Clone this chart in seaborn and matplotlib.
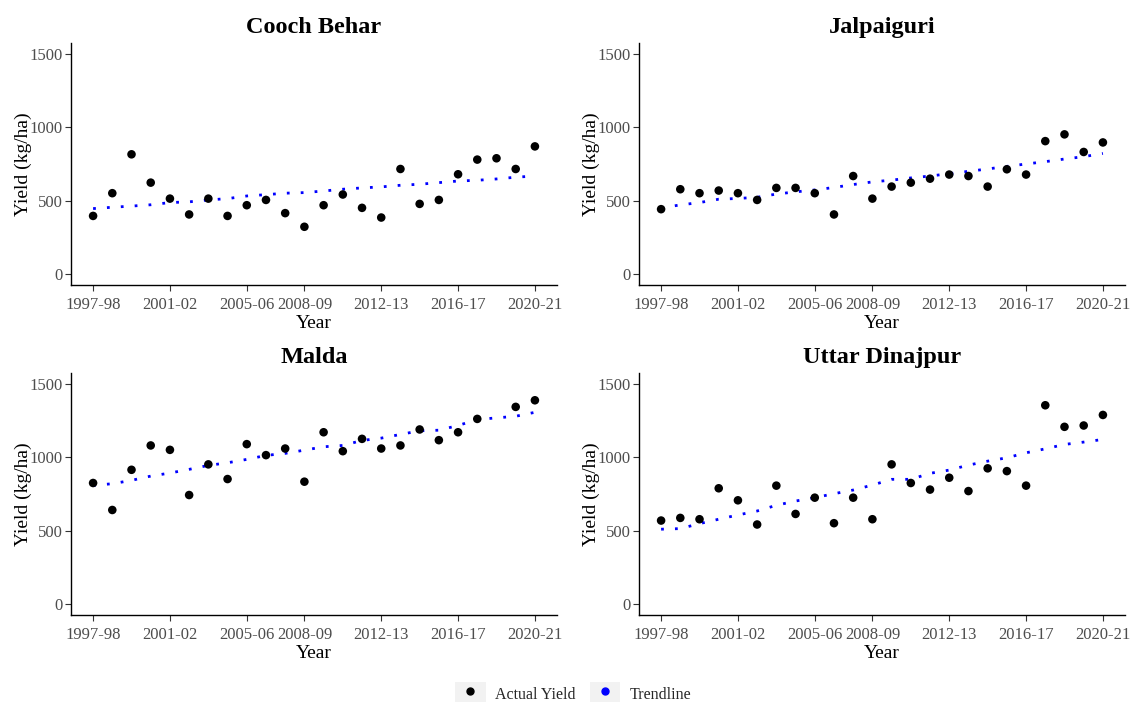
import numpy as np
import pandas as pd
import matplotlib
matplotlib.use("Agg")
import matplotlib.pyplot as plt
import seaborn as sns
from matplotlib.lines import Line2D
from matplotlib.patches import Rectangle
from matplotlib.legend_handler import HandlerTuple

years = ["1997-98", "1998-99", "1999-00", "2000-01", "2001-02", "2002-03",
         "2003-04", "2004-05", "2005-06", "2006-07", "2007-08", "2008-09",
         "2009-10", "2010-11", "2011-12", "2012-13", "2013-14", "2014-15",
         "2015-16", "2016-17", "2017-18", "2018-19", "2019-20", "2020-21"]
shown_years = ["1997-98", "2001-02", "2005-06", "2008-09", "2012-13", "2016-17", "2020-21"]
districts = ["Cooch Behar", "Jalpaiguri", "Malda", "Uttar Dinajpur"]

cooch_actual = [396, 551, 816, 623, 514, 406, 514, 396, 469, 505, 415, 322,
                469, 542, 451, 385, 716, 478, 505, 680, 780, 789, 716, 870]
cooch_trend = [446, 455, 463, 472, 487, 492, 505, 514, 532, 541, 551, 555,
               566, 578, 587, 594, 605, 612, 623, 634, 639, 648, 660, 668]

jalpa_actual = [442, 578, 551, 569, 551, 505, 587, 587, 551, 406, 668, 514,
                596, 623, 650, 678, 668, 596, 714, 678, 906, 952, 832, 897]
jalpa_trend = [451, 471, 487, 510, 515, 523, 545, 560, 573, 590, 610, 628,
               640, 655, 668, 684, 700, 716, 734, 750, 766, 784, 800, 822]

malda_actual = [825, 641, 915, 1081, 1051, 743, 952, 852, 1090, 1015, 1060, 834,
                1171, 1042, 1126, 1060, 1081, 1190, 1117, 1171, 1262, np.nan, 1344, 1389]
malda_trend = [809, 820, 843, 872, 893, 918, 945, 963, 986, 1013, 1027, 1049,
               1072, 1081, 1115, 1131, 1156, 1181, 1185, 1217, 1258, 1269, 1280, 1307]

uttar_actual = [569, 587, 578, 789, 707, 542, 807, 614, 725, 551, 725, 578,
                952, 825, 780, 861, 770, 925, 906, 807, 1355, 1208, 1217, 1289]
uttar_trend = [510, 514, 548, 578, 607, 634, 673, 702, 725, 752, 777, 811,
               850, 850, 891, 913, 947, 974, 997, 1031, 1058, 1088, 1104, 1122]

actual = [cooch_actual, jalpa_actual, malda_actual, uttar_actual]
trend = [cooch_trend, jalpa_trend, malda_trend, uttar_trend]

rows = []
for d, a, t in zip(districts, actual, trend):
    for i, y in enumerate(years):
        rows.append({"District": d, "Year": y, "idx": i, "Actual": a[i], "Trend": t[i]})
df = pd.DataFrame(rows)

sns.set_theme(style="ticks")
plt.rcParams["font.family"] = ["Liberation Serif", "DejaVu Serif"]

fig = plt.figure(figsize=(11.31, 7.02), dpi=100)
W, H = 1131, 702
boxes = [(71, 43, 557, 285), (639, 43, 1125, 285), (71, 373, 557, 615), (639, 373, 1125, 615)]

tick_pos = [years.index(y) for y in shown_years]
for d, (x0, y0, x1, y1) in zip(districts, boxes):
    ax = fig.add_axes([x0 / W, 1 - y1 / H, (x1 - x0) / W, (y1 - y0) / H])
    sub = df[df["District"] == d]
    sns.lineplot(data=sub, x="idx", y="Trend", ax=ax, color="blue",
                 linestyle=(0, (1, 4)), lw=2.0, zorder=2)
    sns.scatterplot(data=sub, x="idx", y="Actual", ax=ax, color="black",
                    s=38, edgecolor="none", zorder=3)
    ax.set_xlim(-1.15, 24.15)
    ax.set_ylim(-75, 1575)
    ax.set_yticks([0, 500, 1000, 1500])
    ax.set_xticks(tick_pos)
    ax.set_xticklabels(shown_years)
    for s in ["top", "right"]:
        ax.spines[s].set_visible(False)
    for s in ["left", "bottom"]:
        ax.spines[s].set_linewidth(1.0)
        ax.spines[s].set_color("black")
    ax.tick_params(axis="both", length=4, width=0.8, color="#333333",
                   labelsize=12, labelcolor="#4D4D4D", pad=2)
    ax.tick_params(axis="x", pad=4.5)
    ax.set_xlabel("Year", fontsize=14, color="black", labelpad=1.5)
    ax.set_ylabel("Yield (kg/ha)", fontsize=14, color="black", labelpad=-2)
    ax.set_title(d, fontsize=17.5, fontweight="bold", color="black", pad=7)

bg = "#F2F2F2"
h1 = (Rectangle((0, 0), 1, 1, facecolor=bg, edgecolor="none"),
      Line2D([], [], marker="o", color="black", linestyle="none", markersize=5))
h2 = (Rectangle((0, 0), 1, 1, facecolor=bg, edgecolor="none"),
      Line2D([], [], marker="o", color="blue", linestyle="none", markersize=5))
fig.legend([h1, h2], ["Actual Yield", "Trendline"], loc="center",
           bbox_to_anchor=(0.507, 1 - 694 / H), ncol=2, frameon=False,
           handler_map={tuple: HandlerTuple(ndivide=1, pad=0)},
           handlelength=1.9, handleheight=1.9, handletextpad=0.6,
           columnspacing=0.9, fontsize=11.5)

fig.savefig("out.png", dpi=100)
